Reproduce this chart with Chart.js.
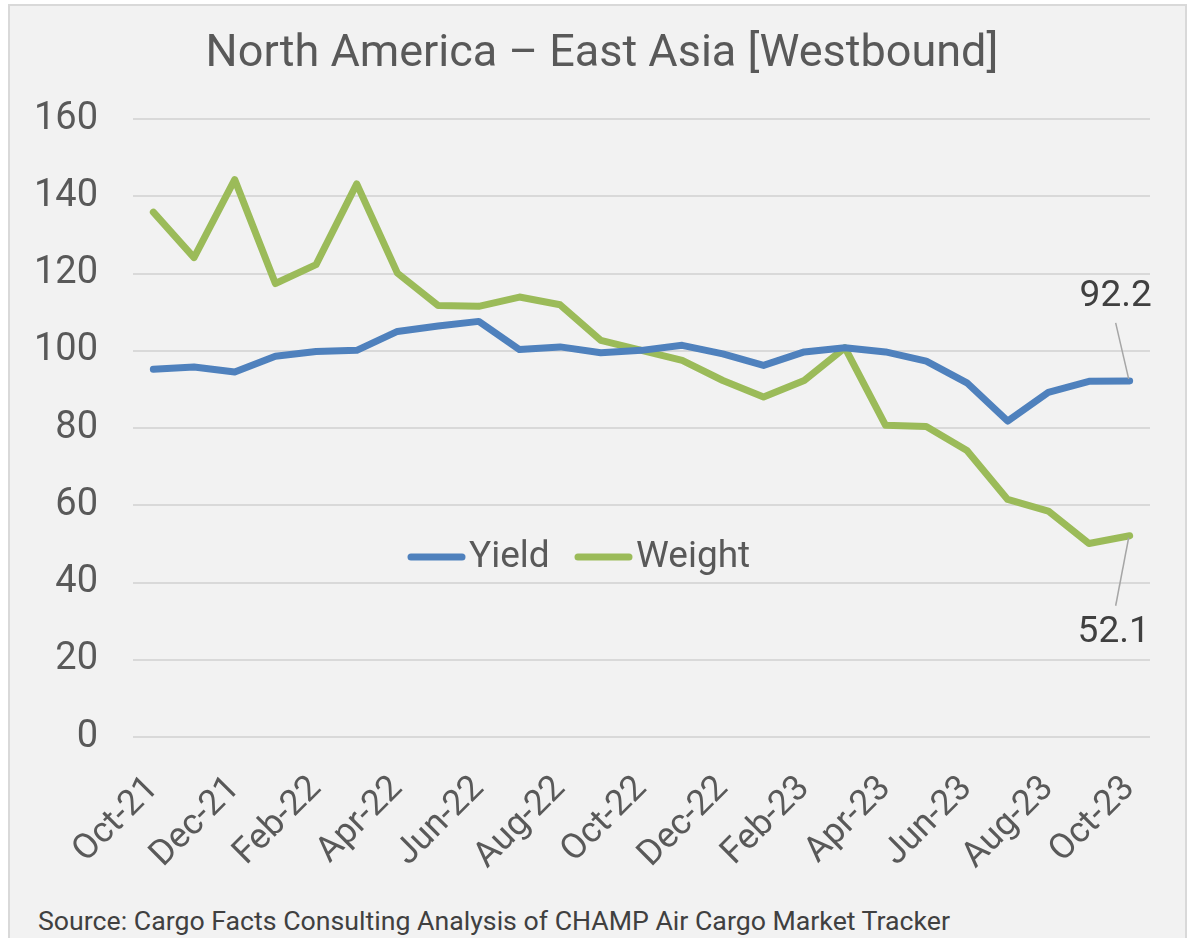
<!DOCTYPE html>
<html>
<head>
<meta charset="utf-8">
<script src="https://cdn.jsdelivr.net/npm/chart.js@4/dist/chart.umd.min.js"></script>
<style>
  html, body { margin: 0; padding: 0; background: #ffffff; }
  #box { position: absolute; left: 8px; top: 4px; width: 1175px; height: 940px; background: #f2f2f2; border: 2px solid #d9d9d9; }
  #c { position: absolute; left: 0; top: 0; }
  #src { position: absolute; left: 28px; top: 899px; font-family: Roboto, sans-serif; font-size: 26.7px; color: #404040; white-space: nowrap; }
</style>
</head>
<body>
<div id="box">
  <canvas id="c" width="1175" height="884"></canvas>
  <div id="src">Source: Cargo Facts Consulting Analysis of CHAMP Air Cargo Market Tracker</div>
</div>
<script>
const categories = ["Oct-21","Nov-21","Dec-21","Jan-22","Feb-22","Mar-22","Apr-22","May-22","Jun-22","Jul-22","Aug-22","Sep-22","Oct-22","Nov-22","Dec-22","Jan-23","Feb-23","Mar-23","Apr-23","May-23","Jun-23","Jul-23","Aug-23","Sep-23","Oct-23"];
const yieldValues = [95.2,95.8,94.5,98.6,99.8,100.1,105.0,106.4,107.6,100.3,101.0,99.5,100.1,101.4,99.2,96.2,99.7,100.8,99.7,97.3,91.7,81.8,89.2,92.1,92.2];
const weightValues = [135.9,124.1,144.3,117.4,122.3,143.2,120.1,111.7,111.5,113.9,111.9,102.7,100.1,97.5,92.3,88.0,92.3,100.8,80.7,80.4,74.2,61.5,58.5,50.1,52.1];
const yTicks = [0,20,40,60,80,100,120,140,160];
const seriesNames = ["Yield","Weight"];
const titleText = "North America \u2013 East Asia [Westbound]";

const BLUE = "#4f81bd", GREEN = "#9bbb59", TXT = "#595959";

const overlay = {
  id: "overlay",
  afterDatasetsDraw(chart) {
    const ctx = chart.ctx;
    const x = chart.scales.x, y = chart.scales.y;
    ctx.save();
    // title
    ctx.fillStyle = TXT;
    ctx.font = "45px Roboto";
    ctx.textAlign = "center"; ctx.textBaseline = "middle";
    ctx.fillText(titleText, 592, 49);
    // end labels with leader lines
    const last = categories.length - 1;
    const px = x.getPixelForValue(last);
    const py1 = y.getPixelForValue(yieldValues[last]);
    const py2 = y.getPixelForValue(weightValues[last]);
    ctx.strokeStyle = "#a6a6a6"; ctx.lineWidth = 1.5;
    ctx.beginPath(); ctx.moveTo(px - 14, py1 - 58); ctx.lineTo(px - 1, py1 - 2); ctx.stroke();
    ctx.beginPath(); ctx.moveTo(px - 14, py2 + 70); ctx.lineTo(px - 1, py2 + 2); ctx.stroke();
    ctx.fillStyle = "#404040";
    ctx.font = "37px Roboto";
    ctx.fillText(String(yieldValues[last]), px - 14, py1 - 84);
    ctx.fillText(String(weightValues[last]), px - 16, py2 + 97);
    // legend
    const ly = 551;
    const items = [[seriesNames[0], BLUE, 397], [seriesNames[1], GREEN, 564]];
    ctx.textAlign = "left";
    ctx.font = "37px Roboto";
    ctx.lineCap = "round";
    items.forEach(([name, col, lx]) => {
      ctx.strokeStyle = col; ctx.lineWidth = 7;
      ctx.beginPath(); ctx.moveTo(lx + 4, ly); ctx.lineTo(lx + 55, ly); ctx.stroke();
      ctx.fillStyle = TXT;
      ctx.fillText(name, lx + 62, ly + 1);
    });
    ctx.restore();
  }
};

new Chart(document.getElementById("c"), {
  type: "line",
  data: {
    labels: categories,
    datasets: [
      { label: seriesNames[0], data: yieldValues, borderColor: BLUE, backgroundColor: BLUE, borderWidth: 7, pointRadius: 0, tension: 0, borderCapStyle: "round", borderJoinStyle: "round" },
      { label: seriesNames[1], data: weightValues, borderColor: GREEN, backgroundColor: GREEN, borderWidth: 7, pointRadius: 0, tension: 0, borderCapStyle: "round", borderJoinStyle: "round" }
    ]
  },
  options: {
    responsive: false,
    animation: false,
    layout: { padding: { left: 0, right: 35, top: 113, bottom: 0 } },
    plugins: {
      legend: { display: false },
      tooltip: { enabled: false },
      title: { display: false }
    },
    scales: {
      x: {
        offset: true,
        grid: { display: false },
        border: { display: false },
        afterFit(s) { s.height = 153; },
        ticks: {
          autoSkip: false, minRotation: 45, maxRotation: 45, color: TXT, padding: 23,
          font: { family: "Roboto", size: 35.5 },
          callback(v, i) { return i % 2 === 0 ? categories[i] : ""; }
        }
      },
      y: {
        min: 0, max: 160,
        afterFit(s) { s.width = 123; },
        afterBuildTicks(s) { s.ticks = yTicks.map(v => ({ value: v })); },
        grid: { color: "#d9d9d9", lineWidth: 2, drawTicks: false },
        border: { display: false },
        ticks: { color: TXT, padding: 35, font: { family: "Roboto", size: 38 } }
      }
    }
  },
  plugins: [overlay]
});
</script>
</body>
</html>
